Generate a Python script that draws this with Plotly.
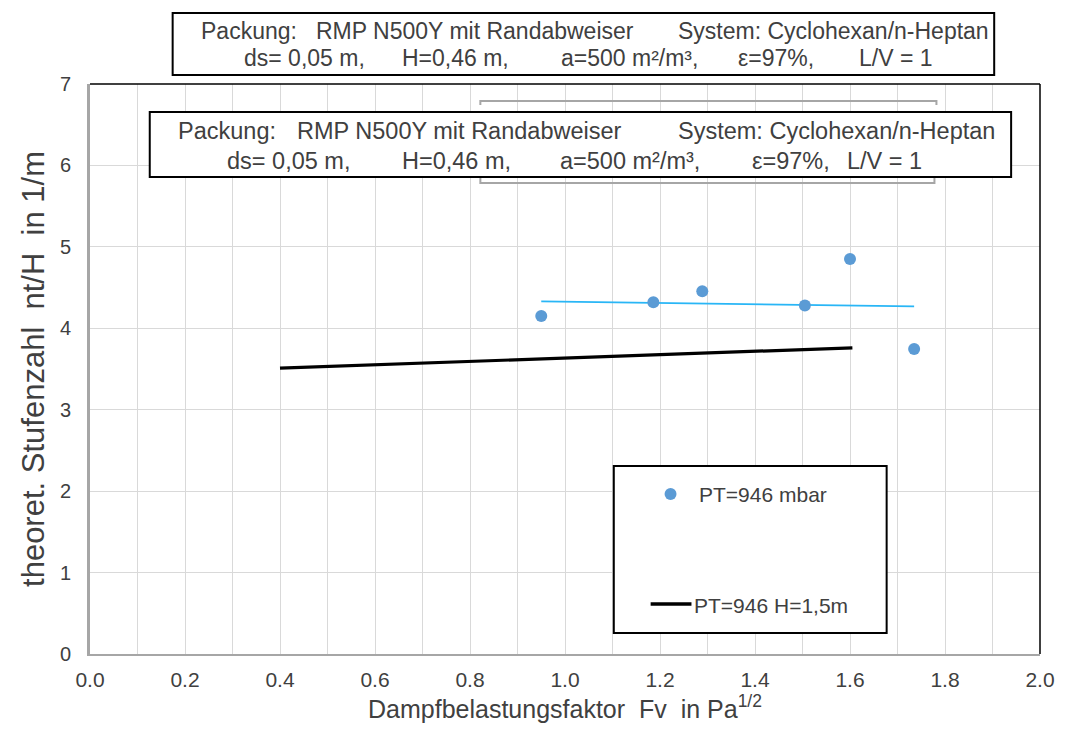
import plotly.graph_objects as go

# ---- data ----
fv_meas = [0.95, 1.186, 1.289, 1.505, 1.60, 1.735]
nth_meas = [4.15, 4.32, 4.455, 4.28, 4.85, 3.745]
fv_trend = [0.95, 1.735]
nth_trend = [4.33, 4.27]
fv_h15 = [0.40, 1.605]
nth_h15 = [3.51, 3.76]

x_ticks = [0.0, 0.2, 0.4, 0.6, 0.8, 1.0, 1.2, 1.4, 1.6, 1.8, 2.0]
y_ticks = [0, 1, 2, 3, 4, 5, 6, 7]

W, H = 1067, 729
L, R, T, B = 90, 1044, 84, 654

def px(x):
    return (x - L) / (R - L)

def py(y):
    return (B - y) / (B - T)

FONT = "Liberation Sans, Arial, sans-serif"
TXT = "#404040"

fig = go.Figure()
fig.add_trace(go.Scatter(x=fv_trend, y=nth_trend, mode="lines",
                         line=dict(color="#29b6f6", width=1.8), showlegend=False))
fig.add_trace(go.Scatter(x=fv_h15, y=nth_h15, mode="lines",
                         line=dict(color="#000000", width=3.2), name="PT=946 H=1,5m", showlegend=False))
fig.add_trace(go.Scatter(x=fv_meas, y=nth_meas, mode="markers",
                         marker=dict(color="#5b9bd5", size=12), name="PT=946 mbar", showlegend=False))

shapes = []
annotations = []

# plot frame top/right in black
shapes.append(dict(type="line", xref="paper", yref="paper", x0=0, x1=1, y0=1, y1=1,
                   line=dict(color="black", width=1.5)))
shapes.append(dict(type="line", xref="paper", yref="paper", x0=1, x1=1, y0=0, y1=1,
                   line=dict(color="black", width=1.5)))

def box(x0, y0, x1, y1, w=2):
    shapes.append(dict(type="rect", xref="paper", yref="paper",
                       x0=px(x0), x1=px(x1), y0=py(y1), y1=py(y0),
                       line=dict(color="black", width=w), fillcolor="white"))

def text(s, x, y, size=23, anchor="left", font=FONT):
    annotations.append(dict(text=s, x=px(x), y=py(y), xref="paper", yref="paper",
                            xanchor=anchor, yanchor="middle", showarrow=False, borderpad=0,
                            font=dict(family=font, size=size, color=TXT)))

# gray bracket lines
shapes.append(dict(type="path", xref="paper", yref="paper",
                   path=f"M {px(482)} {py(105)} L {px(482)} {py(101)} L {px(940)} {py(101)} L {px(940)} {py(105)}",
                   line=dict(color="#a6a6a6", width=2)))
shapes.append(dict(type="path", xref="paper", yref="paper",
                   path=f"M {px(482)} {py(178)} L {px(482)} {py(183)} L {px(938)} {py(183)} L {px(938)} {py(178)}",
                   line=dict(color="#a6a6a6", width=2)))

# top info box
box(173, 13, 998, 75)
text("Packung:", 200, 31)
text("RMP N500Y mit Randabweiser", 316, 31)
text("System: Cyclohexan/n-Heptan", 679, 31)
text("ds= 0,05 m,", 244, 58)
text("H=0,46 m,", 402, 58)
text("a=500 m²/m³,", 562, 58)
text("ε=97%,", 740, 58)
text("L/V = 1", 861, 58)

# second info box
box(150, 112, 1015, 177)
text("Packung:", 177, 131, size=23.5)
text("RMP N500Y mit Randabweiser", 297, 131, size=23.5)
text("System: Cyclohexan/n-Heptan", 679, 131, size=23.5)
text("ds= 0,05 m,", 227, 161, size=23.5)
text("H=0,46 m,", 402, 161, size=23.5)
text("a=500 m²/m³,", 561, 161, size=23.5)
text("ε=97%,", 754, 161, size=23.5)
text("L/V = 1", 849, 161, size=23.5)

# legend box
box(616, 466, 890, 633)
shapes.append(dict(type="circle", xref="paper", yref="paper",
                   x0=px(667), x1=px(679), y0=py(500), y1=py(488),
                   fillcolor="#5b9bd5", line=dict(width=0)))
text("PT=946 mbar", 701, 494, size=21)
shapes.append(dict(type="line", xref="paper", yref="paper",
                   x0=px(653), x1=px(694), y0=py(604), y1=py(604),
                   line=dict(color="black", width=3.5)))
text("PT=946 H=1,5m", 696, 605, size=21)

fig.update_layout(
    width=W, height=H,
    margin=dict(l=L, r=W - R, t=T, b=H - B),
    paper_bgcolor="white", plot_bgcolor="white",
    showlegend=False,
    shapes=shapes, annotations=annotations,
    xaxis=dict(range=[0, 2.0], tickvals=x_ticks, ticktext=[f"{v:.1f}" for v in x_ticks],
               showgrid=True, gridcolor="#d9d9d9", gridwidth=1,
               minor=dict(dtick=0.1, tick0=0, showgrid=True, gridcolor="#d9d9d9", gridwidth=1),
               showline=True, linecolor="#a6a6a6", linewidth=2, zeroline=False,
               ticks="", ticklen=0, ticklabelstandoff=6,
               tickfont=dict(family=FONT, size=21, color=TXT),
               title=dict(text="Dampfbelastungsfaktor  Fv  in Pa<sup>1/2</sup>",
                          font=dict(family=FONT, size=25, color=TXT), standoff=6)),
    yaxis=dict(range=[0, 7], tickvals=y_ticks,
               showgrid=True, gridcolor="#d9d9d9", gridwidth=1,
               showline=True, linecolor="#a6a6a6", linewidth=3, zeroline=False,
               ticks="", ticklen=0, ticklabelstandoff=12,
               tickfont=dict(family=FONT, size=20, color=TXT),
               title=dict(text="theoret. Stufenzahl  nt/H  in 1/m",
                          font=dict(family=FONT, size=31, color=TXT), standoff=7)),
)

fig.write_html("out.html")
